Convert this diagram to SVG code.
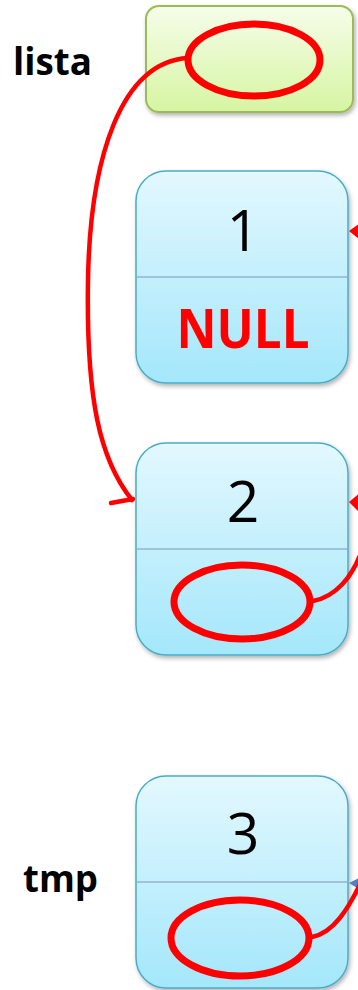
<svg xmlns="http://www.w3.org/2000/svg" width="358" height="990" viewBox="0 0 358 990">
<style>
.lbl{font-family:"Open Sans","Liberation Sans",sans-serif;font-weight:bold;fill:#000}
.num{font-family:"Open Sans","Liberation Sans",sans-serif;font-size:57px;fill:#000;text-anchor:middle}
.node{fill:url(#gBlue);stroke:#4bacc6;stroke-width:1.5;filter:url(#sh)}
.div{stroke:#95b3d7;stroke-width:1.5}
.ring{fill:none;stroke:#ff0000;stroke-width:7}
.wire{fill:none;stroke:#ff0000;stroke-width:4.5;stroke-linecap:round}
</style>
<defs>
<linearGradient id="gBlue" x1="0" y1="0" x2="0" y2="1">
<stop offset="0" stop-color="#e3f8fe"/>
<stop offset="1" stop-color="#a4e7fb"/>
</linearGradient>
<linearGradient id="gGreen" x1="0" y1="0" x2="0" y2="1">
<stop offset="0" stop-color="#f6fdea"/>
<stop offset="1" stop-color="#d6f5a2"/>
</linearGradient>
<filter id="sh" x="-10%" y="-10%" width="130%" height="130%">
<feDropShadow dx="1.5" dy="2.5" stdDeviation="2" flood-color="#000" flood-opacity="0.3"/>
</filter>
</defs>

<g id="label-lista"><text class="lbl" x="13" y="75" font-size="38" textLength="79" lengthAdjust="spacingAndGlyphs">lista</text></g>
<g id="label-tmp"><text class="lbl" x="23" y="892" font-size="38" textLength="75" lengthAdjust="spacingAndGlyphs">tmp</text></g>

<g id="lista">
<rect x="146" y="6" width="207" height="106" rx="13" fill="url(#gGreen)" stroke="#9bbb59" stroke-width="2" filter="url(#sh)"/>
<ellipse class="ring" cx="254" cy="60" rx="66" ry="36"/>
</g>

<g id="node1">
<rect class="node" x="136" y="171" width="212" height="212" rx="30"/>
<line class="div" x1="137" y1="277" x2="347" y2="277"/>
<text class="num" x="243" y="251">1</text>
<text x="243" y="348" font-family="'Open Sans','Liberation Sans',sans-serif" font-weight="bold" font-size="54" fill="#ff0000" text-anchor="middle" textLength="133" lengthAdjust="spacingAndGlyphs">NULL</text>
</g>

<g id="node2">
<rect class="node" x="136" y="443" width="212" height="212" rx="30"/>
<line class="div" x1="137" y1="549" x2="347" y2="549"/>
<text class="num" x="243" y="522">2</text>
<ellipse class="ring" cx="242" cy="602" rx="68" ry="37"/>
</g>

<g id="node3">
<rect class="node" x="136" y="776" width="212" height="212" rx="30"/>
<line class="div" x1="137" y1="882" x2="347" y2="882"/>
<text class="num" x="243" y="854">3</text>
<ellipse class="ring" cx="240" cy="938" rx="69" ry="38"/>
</g>

<g id="connectors">
<path class="wire" d="M188,58 C120,62 90,160 88,280 C86,400 100,460 132,500"/>
<path class="wire" d="M111,503 L133,499"/>
<polygon points="349,231 360,223 360,240" fill="#ff0000"/>
<polygon points="349,502 361,492 361,514" fill="#ff0000"/>
<path class="wire" d="M313,601 C335,597 352,578 362,550"/>
<polygon points="349,883 359,878 359,889" fill="#4f81bd"/>
<path class="wire" d="M312,937 C333,933 348,910 362,880"/>
</g>
</svg>
